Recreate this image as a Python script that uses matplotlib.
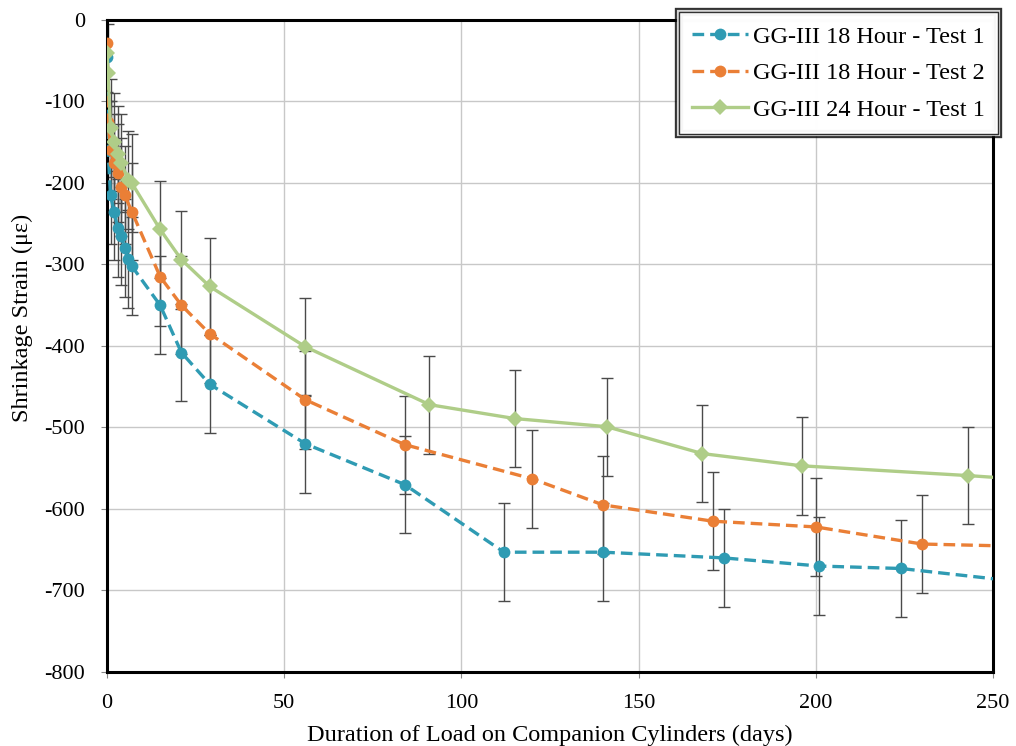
import matplotlib.pyplot as plt
import matplotlib.patheffects as pe

# ---------------------------------------------------------------------
# Data (days, microstrain)
# ---------------------------------------------------------------------
days_a = [0, 0.3, 1, 2, 3, 4, 5, 6, 7, 15, 21, 29, 56, 84, 112, 140, 174, 201, 224, 280]
strain_a = [-45, -160, -215, -235, -255, -265, -280, -293, -302, -350, -408, -447,
            -520, -570, -653, -653, -660, -670, -673, -700]
err_a = [60] * len(days_a)

days_b = [0, 0.3, 1, 2, 3, 4, 5, 7, 15, 21, 29, 56, 84, 120, 140, 171, 200, 230, 280]
strain_b = [-28, -125, -160, -175, -188, -205, -215, -235, -315, -350, -385,
            -466, -521, -563, -595, -615, -622, -643, -648]
err_b = [60] * len(days_b)

days_c = [0, 0.3, 1, 2, 3, 4, 6, 7, 15, 21, 29, 56, 91, 115, 141, 168, 196, 243, 280]
strain_c = [-40, -65, -133, -150, -165, -175, -196, -200, -257, -294, -327,
            -401, -472, -489, -499, -532, -547, -559, -570]
err_c = [60] * len(days_c)

labels = ["GG-III 18 Hour - Test 1", "GG-III 18 Hour - Test 2", "GG-III 24 Hour - Test 1"]
colors = ["#2f9bb3", "#ea7f36", "#afcd88"]

plt.rcParams["font.family"] = ["Liberation Serif", "DejaVu Serif"]
plt.rcParams["axes.unicode_minus"] = False

fig = plt.figure(figsize=(10.16, 7.46), dpi=100)
ax = fig.add_axes([0.1053, 0.0992, 0.872, 0.874])

series = [
    (days_a, strain_a, err_a, "--", "o"),
    (days_b, strain_b, err_b, "--", "o"),
    (days_c, strain_c, err_c, "-", "D"),
]

# error bars first so the lines sit on top
for (d, s, e, ls, mk) in series:
    ax.errorbar(d, s, yerr=e, fmt="none", ecolor="#4a4a4a", elinewidth=1.0,
                capsize=4, capthick=1.0, zorder=2)

handles = []
for (d, s, e, ls, mk), lab, col in zip(series, labels, colors):
    msize = 8.5 if mk == "o" else 8
    h, = ax.plot(d, s, linestyle=ls, color=col, lw=2.4, marker=mk,
                 markersize=msize, markeredgewidth=0, label=lab, zorder=3,
                 dashes=(3.5, 1.8) if ls == "--" else (None, None))
    handles.append(h)

ax.set_xlim(0, 250)
ax.set_ylim(-800, 0)
ax.set_xticks(range(0, 251, 50))
ax.set_yticks(range(-800, 1, 100))
ax.grid(True, color="#c8c8c8", lw=1.0)
ax.set_axisbelow(True)

for sp in ax.spines.values():
    sp.set_linewidth(2.2)
    sp.set_color("black")

ax.tick_params(axis="both", labelsize=16, length=4, color="#888888",
               width=0.8, pad=12)

ax.set_xlabel("Duration of Load on Companion Cylinders (days)", fontsize=17.5, labelpad=8)
ax.set_ylabel("Shrinkage Strain (\u03bc\u03b5)", fontsize=17.5)
ax.yaxis.set_label_coords(-0.0835, 0.543)

leg = ax.legend(handles=handles, loc="upper right", bbox_to_anchor=(1.006, 1.012),
                borderaxespad=0, fontsize=17.5, frameon=True, fancybox=False,
                handlelength=2.3, handletextpad=0.2, borderpad=0.55,
                labelspacing=0.6)
frame = leg.get_frame()
frame.set_edgecolor("black")
frame.set_linewidth(1.0)
frame.set_path_effects([pe.Stroke(linewidth=6, foreground="black"),
                        pe.Stroke(linewidth=3, foreground="white"),
                        pe.Normal()])
leg.set_zorder(5)

fig.savefig("out.png", dpi=100)
